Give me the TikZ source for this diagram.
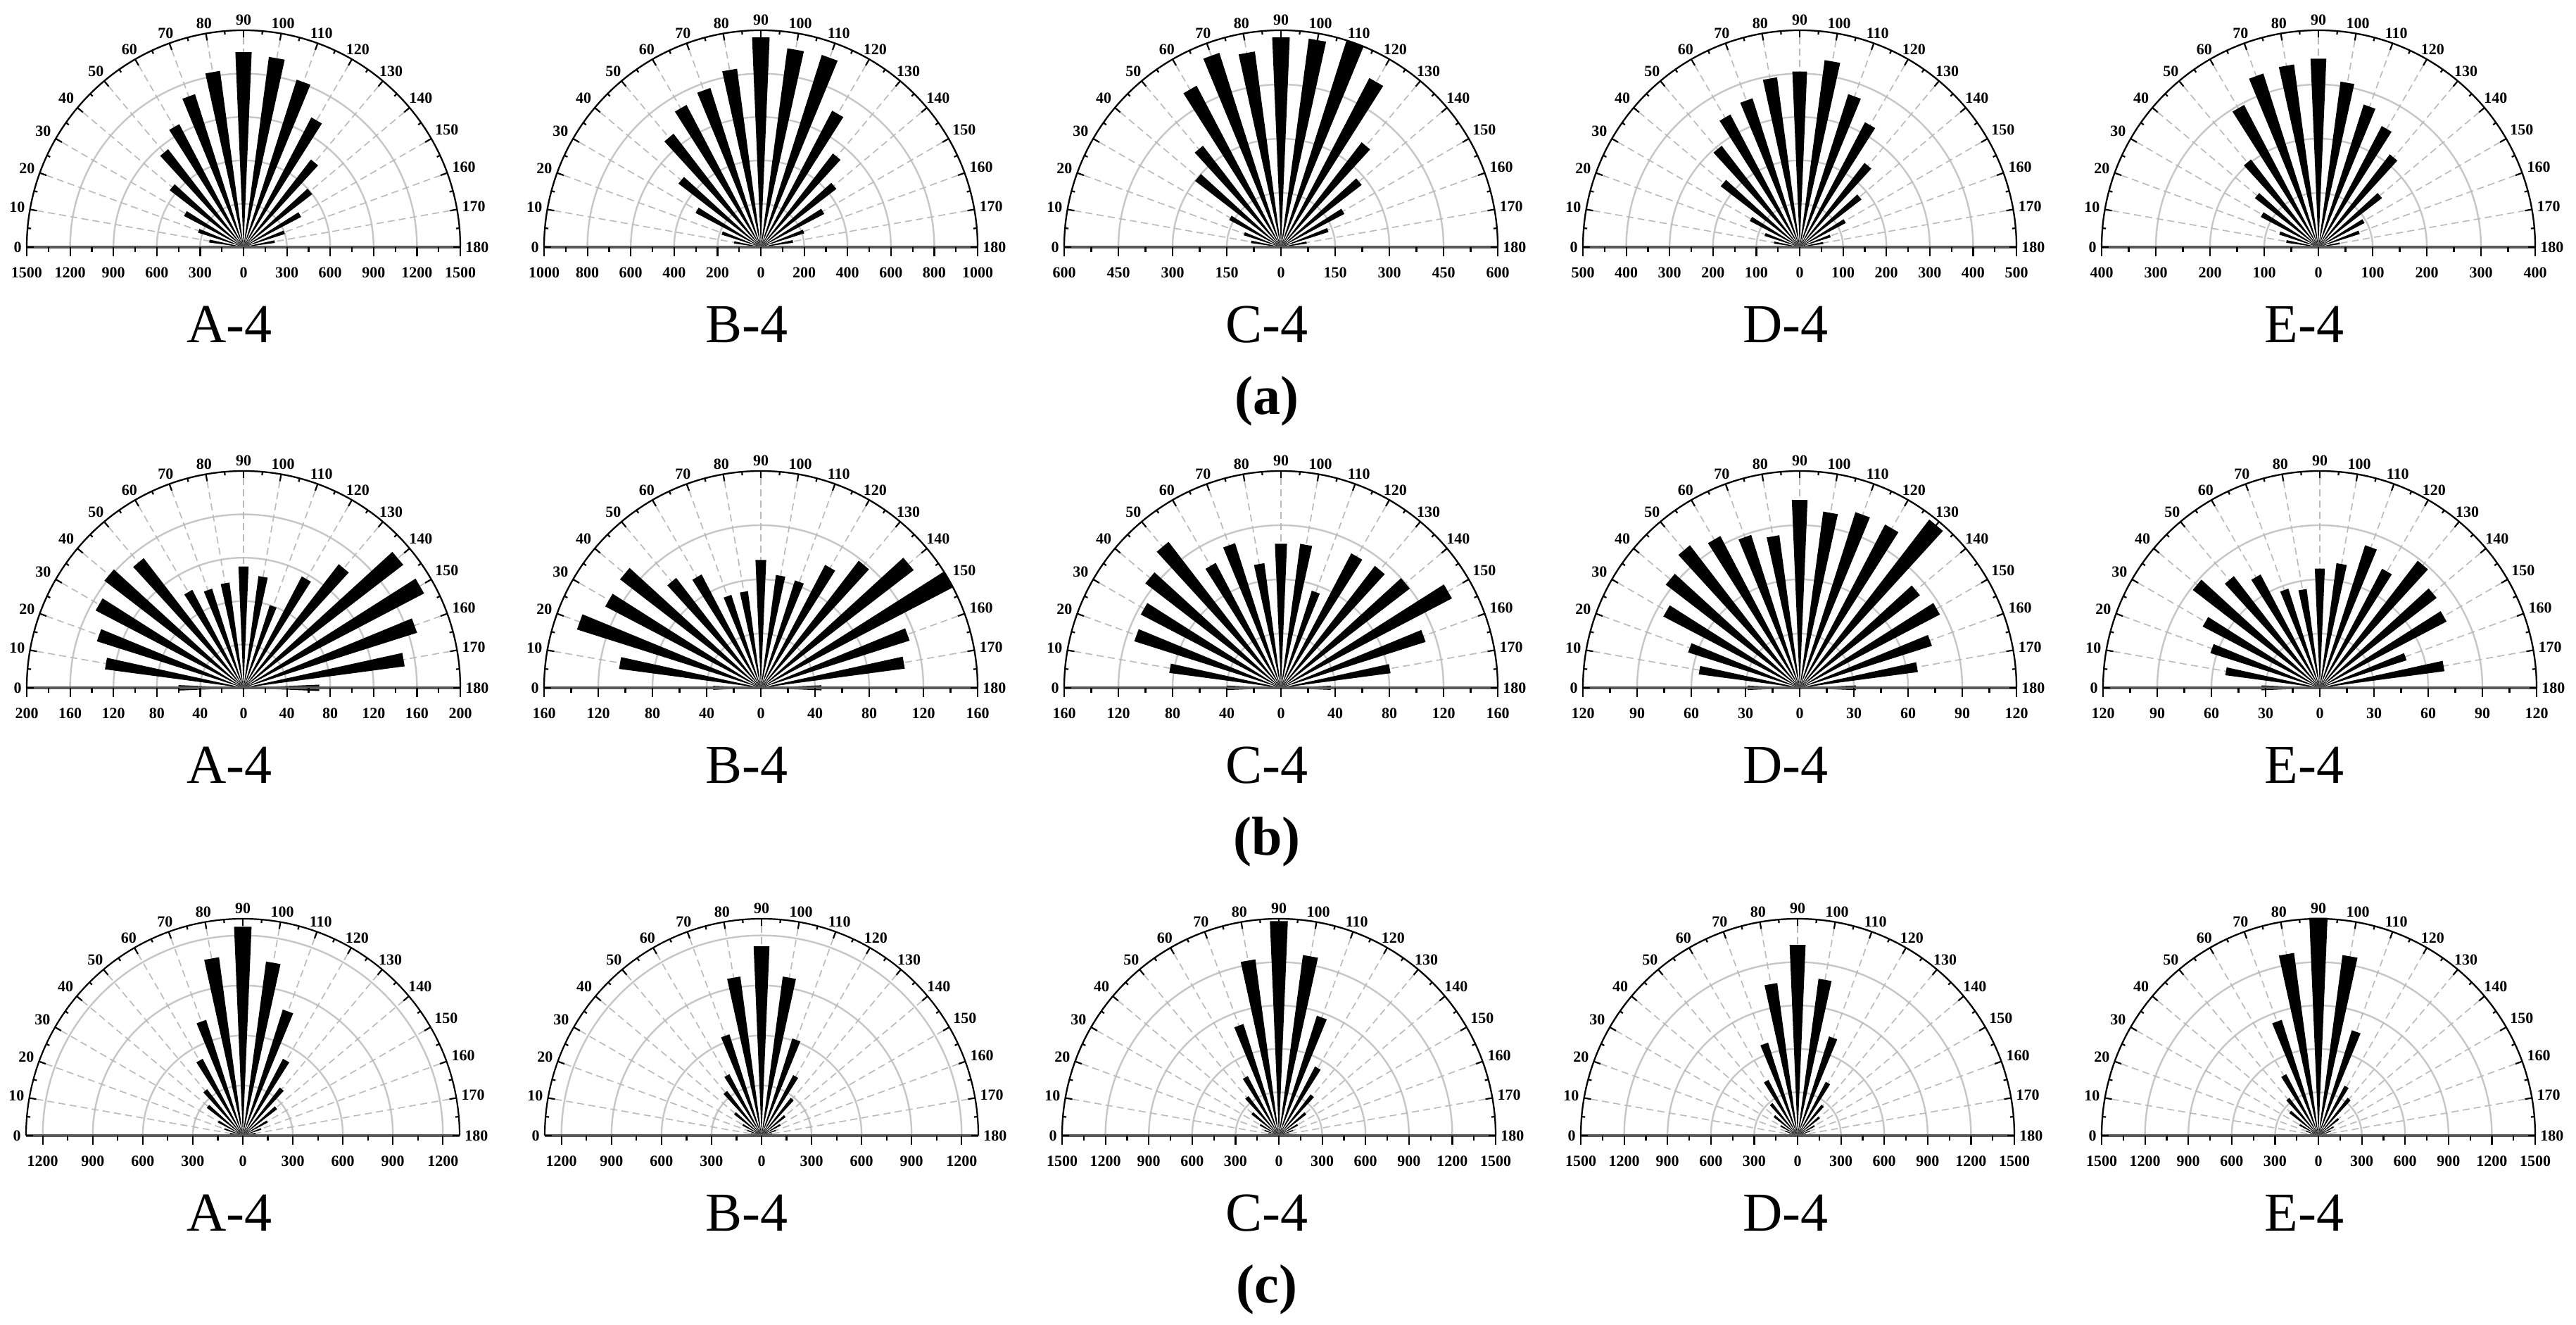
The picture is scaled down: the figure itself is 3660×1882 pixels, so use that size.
\documentclass[tikz,border=0pt]{standalone}
\usepackage{fontspec}
\setmainfont{Liberation Serif}
\tikzset{
  ringline/.style={gray!45,line width=1.2pt},
  radline/.style={gray!55,dashed,line width=0.8pt,dash pattern=on 5pt off 3pt},
  baseline/.style={gray!70!black,line width=2pt},
  outerline/.style={black,line width=1.1pt},
  albl/.style={font=\bfseries\fontsize{11}{11}\selectfont,inner sep=1.5pt},
  xlbl/.style={font=\bfseries\fontsize{11}{11}\selectfont,inner sep=0pt},
  ttl/.style={font=\fontsize{39}{39}\selectfont,inner sep=0pt},
  sublbl/.style={font=\bfseries\fontsize{39}{39}\selectfont,inner sep=0pt},
  bar/.style={fill=black}
}
\def\RR{308}
\newcommand\rosepanel[6]{%
\begin{scope}[shift={(#2,#3)}]
  \pgfmathtruncatemacro\nr{floor(#4/#5+0.001)}
  \foreach \k in {1,...,\nr}{%
    \pgfmathsetmacro\rr{\k*#5/#4*\RR}
    \draw[ringline] (\rr,0) arc[start angle=0,end angle=180,radius=\rr];}
  \foreach \a in {10,20,...,170} \draw[radline] (0,0) -- (\a:\RR);
  \foreach \v [count=\i from 0] in {#6}{%
    \pgfmathsetmacro\ph{180-10*\i}
    \fill[bar] (0,0) -- (\ph-2.4:\v*\RR) -- (\ph+2.4:\v*\RR) -- cycle;}
  \draw[baseline] (-\RR,0) -- (\RR,0);
  \draw[outerline] (\RR,0) arc[start angle=0,end angle=180,radius=\RR];
  \foreach \a in {0,10,...,180} \draw[outerline] (\a:\RR) -- (\a:\RR-10);
  \foreach \a in {5,15,...,175} \draw[outerline] (\a:\RR) -- (\a:\RR-5);
  \foreach \t in {0,10,...,180}{%
    \pgfmathsetmacro\ph{180-\t}
    \pgfmathtruncatemacro\an{mod(360-\t,360)}
    \node[albl,anchor=\an] (#1t\t) at (\ph:\RR+4) {\t};}
  \foreach \k in {0,...,\nr}{%
    \pgfmathsetmacro\xx{\k*#5/#4*\RR}
    \pgfmathtruncatemacro\lab{\k*#5}
    \draw[outerline] (\xx,0) -- (\xx,-13);
    \draw[outerline] (-\xx,0) -- (-\xx,-13);
    \node[xlbl] (#1r\k) at (\xx,-36) {\lab};
    \ifnum\k>0 \node[xlbl] (#1l\k) at (-\xx,-36) {\lab};\fi
    \pgfmathsetmacro\hm{(\k+0.5)*#5}
    \pgfmathparse{\hm<#4?1:0}
    \ifnum\pgfmathresult=1
      \pgfmathsetmacro\hx{\hm/#4*\RR}
      \draw[outerline] (\hx,0) -- (\hx,-7);
      \draw[outerline] (-\hx,0) -- (-\hx,-7);
    \fi}
\end{scope}}
\begin{document}
\begin{tikzpicture}[x=0.5pt,y=0.5pt]
\useasboundingbox (0,0) rectangle (3660,1882);
% row a
\rosepanel{aA}{346}{1531}{1500}{300}{.06,.16,.22,.31,.43,.57,.64,.74,.82,.90,.885,.81,.675,.51,.40,.30,.20,.146,.06}
\rosepanel{aB}{1081}{1531}{1000}{200}{.06,.125,.19,.34,.48,.66,.74,.77,.83,.968,.925,.93,.71,.545,.44,.33,.21,.15,.07}
\rosepanel{aC}{1820}{1531}{600}{150}{.08,.14,.18,.27,.50,.59,.84,.94,.91,.968,.97,1.0,.88,.61,.47,.33,.23,.12,.1}
\rosepanel{aD}{2557}{1531}{500}{100}{.07,.12,.17,.26,.46,.59,.69,.72,.79,.81,.87,.74,.65,.49,.36,.24,.15,.11,.06}
\rosepanel{aE}{3294}{1531}{400}{100}{.06,.15,.19,.30,.37,.51,.74,.84,.85,.87,.77,.69,.63,.54,.37,.24,.2,.1,.06}
% row b
\rosepanel{bA}{346}{905}{200}{40}{.30,.645,.71,.77,.81,.755,.51,.48,.49,.56,.52,.40,.58,.72,.93,.94,.84,.75,.35}
\rosepanel{bB}{1081}{905}{160}{40}{.22,.66,.89,.81,.82,.64,.59,.45,.45,.59,.525,.52,.64,.74,.89,1.0,.72,.67,.28}
\rosepanel{bC}{1820}{905}{160}{40}{.25,.52,.71,.73,.79,.85,.65,.70,.58,.665,.67,.47,.70,.71,.75,.89,.70,.51,.23}
\rosepanel{bD}{2557}{905}{120}{30}{.24,.47,.54,.71,.78,.83,.79,.74,.71,.867,.82,.85,.85,.98,.70,.73,.64,.55,.26}
\rosepanel{bE}{3296}{905}{120}{30}{.27,.44,.53,.61,.74,.65,.59,.48,.46,.55,.58,.69,.62,.74,.68,.66,.42,.58,.14}
% row c
\rosepanel{cA}{345}{269}{1300}{300}{.04,.06,.09,.13,.21,.27,.40,.56,.83,.964,.81,.61,.40,.28,.2,.13,.09,.06,.04}
\rosepanel{cB}{1082}{269}{1300}{300}{.03,.05,.07,.1,.16,.26,.32,.49,.74,.874,.74,.47,.315,.22,.14,.1,.07,.05,.03}
\rosepanel{cC}{1817}{269}{1500}{300}{.03,.05,.07,.1,.16,.23,.31,.54,.82,.99,.84,.58,.36,.24,.16,.1,.07,.05,.03}
\rosepanel{cD}{2554}{269}{1500}{300}{.03,.04,.06,.09,.14,.19,.29,.45,.71,.88,.73,.48,.28,.18,.13,.09,.06,.04,.03}
\rosepanel{cE}{3294}{269}{1500}{300}{.03,.04,.06,.1,.17,.22,.32,.56,.85,1.005,.84,.51,.26,.22,.12,.08,.06,.04,.03}
% titles
\foreach \n/\x in {A/326,B/1061,C/1800,D/2537,E/3274}{
  \node[ttl] (ta\n) at (\x,1421) {\n-4};
  \node[ttl] (tb\n) at (\x,795) {\n-4};
  \node[ttl] (tc\n) at (\x,159) {\n-4};}
\node[sublbl] (la) at (1800,1312) {(a)};
\node[sublbl] (lb) at (1800,686) {(b)};
\node[sublbl] (lc) at (1800,50) {(c)};
\end{tikzpicture}
\end{document}
